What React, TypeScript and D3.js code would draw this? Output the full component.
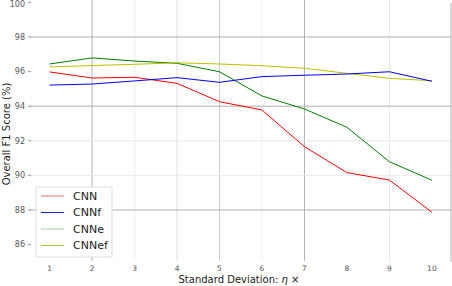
import React, { useEffect, useRef } from "react";
import * as d3 from "d3";

// standard deviation multipliers
const etas = [1, 2, 3, 4, 5, 6, 7, 8, 9, 10];

// overall F1 score (%) per model
const cnn = [95.98, 95.63, 95.67, 95.32, 94.26, 93.78, 91.66, 90.16, 89.73, 87.87];
const cnnF = [95.22, 95.28, 95.46, 95.65, 95.38, 95.71, 95.79, 95.86, 95.99, 95.44];
const cnnE = [96.44, 96.79, 96.61, 96.48, 95.99, 94.59, 93.84, 92.78, 90.79, 89.72];
const cnnEF = [96.27, 96.35, 96.42, 96.51, 96.44, 96.34, 96.19, 95.9, 95.61, 95.47];

const seriesNames = ["CNN", "CNNf", "CNNe", "CNNef"];
const yTicks = [100, 98, 96, 94, 92, 90, 88, 86];

const App = () => {
  const ref = useRef<SVGGElement>(null);
  const width = 452;
  const height = 286;

  useEffect(() => {
    if (!ref.current) return;
    ref.current.innerHTML = "";
    const g = d3.select(ref.current);

    const x = d3.scaleLinear().domain([0.55, 10.45]).range([30.5, 451]);
    const y = d3.scaleLinear().domain([100, 85.2]).range([2.4, 258.4]);

    // gridlines come out uneven in the original, so shade them one by one
    const vGrid: Record<number, string> = {
      2: "#b4b4b4", 3: "#ececec", 4: "#dedede", 5: "#cacaca",
      6: "#eeeeee", 7: "#b0b0b0", 9: "#e8e8e8",
    };
    const hGrid: Record<number, string> = {
      98: "#b0b0b0", 94: "#b0b0b0", 92: "#e8e8e8", 90: "#ebebeb", 88: "#b0b0b0",
    };

    g.append("g")
      .selectAll("line")
      .data(etas.filter((d) => vGrid[d]))
      .enter()
      .append("line")
      .attr("x1", (d) => x(d))
      .attr("x2", (d) => x(d))
      .attr("y1", 0)
      .attr("y2", 261)
      .attr("stroke", (d) => vGrid[d])
      .attr("stroke-width", 1);

    g.append("g")
      .selectAll("line")
      .data(yTicks.filter((d) => hGrid[d]))
      .enter()
      .append("line")
      .attr("x1", 30)
      .attr("x2", 451)
      .attr("y1", (d) => y(d))
      .attr("y2", (d) => y(d))
      .attr("stroke", (d) => hGrid[d])
      .attr("stroke-width", 1);

    // right edge
    g.append("line")
      .attr("x1", 451).attr("x2", 451)
      .attr("y1", 3).attr("y2", 262)
      .attr("stroke", "#b0b0b0");

    // y ticks
    const yAxis = g.append("g");
    yAxis.selectAll("line")
      .data(yTicks)
      .enter()
      .append("line")
      .attr("x1", 28).attr("x2", 31)
      .attr("y1", (d) => y(d)).attr("y2", (d) => y(d))
      .attr("stroke", "#999");
    yAxis.selectAll("text")
      .data(yTicks)
      .enter()
      .append("text")
      .attr("x", 25)
      .attr("y", (d) => Math.max(y(d), 4))
      .attr("dy", "0.35em")
      .attr("text-anchor", "end")
      .attr("font-size", 8)
      .attr("fill", "#555")
      .text((d) => d);

    // x ticks
    g.append("g")
      .selectAll("text")
      .data(etas)
      .enter()
      .append("text")
      .attr("x", (d) => x(d))
      .attr("y", 271)
      .attr("text-anchor", "middle")
      .attr("font-size", 7.5)
      .attr("fill", "#555")
      .text((d) => d);

    const series = [
      { name: "CNN", values: cnn, color: "#ff0000" },
      { name: "CNNe", values: cnnE, color: "#008000" },
      { name: "CNNef", values: cnnEF, color: "#bfbf00" },
      { name: "CNNf", values: cnnF, color: "#0000ff" },
    ];

    const line = d3.line<number>()
      .x((_, i) => x(etas[i]))
      .y((d) => y(d));

    g.append("g")
      .selectAll("path")
      .data(series)
      .enter()
      .append("path")
      .attr("d", (d) => line(d.values))
      .attr("fill", "none")
      .attr("stroke", (d) => d.color)
      .attr("stroke-width", 1);

    // legend
    const legendColors = ["#f26a6a", "#1a1aff", "#a3d0a3", "#c2c22e"];
    const lg = g.append("g").attr("transform", "translate(36,187)");
    lg.append("rect")
      .attr("width", 76)
      .attr("height", 70)
      .attr("fill", "white")
      .attr("fill-opacity", 0.9)
      .attr("stroke", "#dddddd");
    const item = lg.selectAll("g")
      .data(seriesNames)
      .enter()
      .append("g")
      .attr("transform", (_, i) => "translate(0," + (9 + i * 16.5) + ")");
    item.append("line")
      .attr("x1", 5).attr("x2", 28)
      .attr("stroke", (_, i) => legendColors[i])
      .attr("stroke-width", 1);
    item.append("text")
      .attr("x", 37)
      .attr("dy", "0.35em")
      .attr("font-size", 11)
      .attr("fill", "#222")
      .text((d) => d);

    // axis titles
    const xl = g.append("text")
      .attr("x", 239)
      .attr("y", 283)
      .attr("text-anchor", "middle")
      .attr("font-size", 10)
      .attr("fill", "#222");
    xl.append("tspan").text("Standard Deviation: ");
    xl.append("tspan").attr("font-style", "italic").text("η");
    xl.append("tspan").text(" ×");

    g.append("text")
      .attr("transform", "translate(6,134) rotate(-90)")
      .attr("text-anchor", "middle")
      .attr("dy", "0.35em")
      .attr("font-size", 10)
      .attr("fill", "#222")
      .text("Overall F1 Score (%)");
  }, []);

  return (
    <svg
      width={width}
      height={height}
      style={{ position: "absolute", left: 0, top: 0, background: "white" }}
      fontFamily="DejaVu Sans, sans-serif"
    >
      <g ref={ref} />
    </svg>
  );
};

export default App;
